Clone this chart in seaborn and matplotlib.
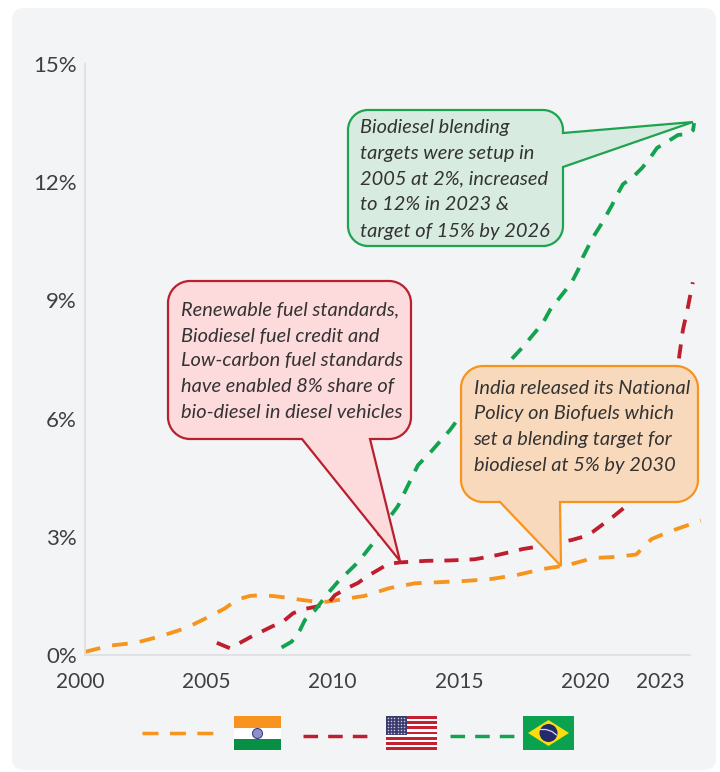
import numpy as np
import pandas as pd
import matplotlib
matplotlib.use("Agg")
import matplotlib.pyplot as plt
import matplotlib.transforms as mtrans
from matplotlib.path import Path
from matplotlib.patches import PathPatch, Rectangle, Circle, Polygon, FancyBboxPatch
import seaborn as sns

# ---------- data ----------
india_years = [2000, 2001, 2002, 2003, 2004, 2005, 2005.5, 2006, 2006.5, 2007, 2007.5, 2008, 2008.5, 2009, 2009.5,
               2010, 2011, 2012, 2013, 2014, 2015, 2016, 2017, 2018, 2019, 2020, 2020.9, 2021.7, 2022.3, 2023, 2023.62, 2024.25]
india_vals = [0.08, 0.24, 0.31, 0.48, 0.69, 1.01, 1.18, 1.41, 1.50, 1.52, 1.49, 1.45, 1.40, 1.36, 1.35,
              1.40, 1.50, 1.70, 1.82, 1.85, 1.88, 1.93, 2.03, 2.18, 2.28, 2.46, 2.49, 2.55, 2.94, 3.13, 3.27, 3.41]
usa_years = [2005.19, 2005.71, 2006.50, 2007.35, 2007.80, 2008.19, 2008.66, 2009.12, 2009.57, 2009.84, 2010.30,
             2010.75, 2011.09, 2011.54, 2011.93, 2012.40, 2013.45, 2014.37, 2015.35, 2016.26, 2017.24, 2018.19,
             2019.17, 2019.61, 2020.0, 2020.79, 2021.46, 2022.44, 2023.11, 2023.39, 2023.54, 2023.74, 2023.93]
usa_vals = [0.31, 0.17, 0.45, 0.72, 0.85, 1.06, 1.17, 1.23, 1.31, 1.52, 1.69,
            1.83, 1.99, 2.16, 2.31, 2.35, 2.39, 2.40, 2.43, 2.54, 2.69, 2.79,
            2.92, 3.00, 3.13, 3.51, 3.86, 5.08, 6.47, 7.56, 8.25, 8.84, 9.46]
brazil_years = [2007.74, 2008.14, 2008.46, 2008.66, 2009.06, 2009.57, 2009.96, 2010.63, 2010.94, 2011.54, 2012.01,
                2012.32, 2012.72, 2013.11, 2013.58, 2014.37, 2014.76, 2016.65, 2017.20, 2018.03, 2018.31, 2018.98,
                2019.17, 2019.41, 2019.61, 2019.80, 2020.0, 2020.35, 2020.75, 2020.94, 2021.18, 2021.57, 2021.93,
                2022.24, 2022.52, 2022.91, 2023.35, 2023.74, 2023.94, 2023.98]
brazil_vals = [0.19, 0.34, 0.63, 0.89, 1.14, 1.57, 1.86, 2.28, 2.51, 3.00, 3.51,
               3.78, 4.31, 4.82, 5.13, 5.71, 6.05, 7.41, 7.79, 8.43, 8.76, 9.31,
               9.47, 9.77, 10.11, 10.35, 10.60, 10.96, 11.42, 11.67, 11.95, 12.13, 12.36,
               12.61, 12.87, 13.02, 13.20, 13.22, 13.32, 13.50]
x_ticks = [2000, 2005, 2010, 2015, 2020, 2023]
x_tick_shift_px = [-5, -6, -7, -7, -8, -9]
y_ticks = [0, 3, 6, 9, 12, 15]
y_labels = ["0%", "3%", "6%", "9%", "12%", "15%"]
note_green = ["Biodiesel blending", "targets were setup in", "2005 at 2%, increased", "to 12% in 2023 &", "target of 15% by 2026"]
note_red = ["Renewable fuel standards,", "Biodiesel fuel credit and", "Low-carbon fuel standards", "have enabled 8% share of", "bio-diesel in diesel vehicles"]
note_orange = ["India released its National", "Policy on Biofuels which", "set a blending target for", "biodiesel at 5% by 2030"]

ORANGE, RED, GREEN = "#f7941d", "#be1e2d", "#12a34f"
PANEL, TEXT, AXIS = "#f3f4f6", "#3f3f3f", "#dfe0e3"

sns.set_theme(style="white")
plt.rcParams["font.family"] = ["Lato", "DejaVu Sans"]

W, H = 720, 772
fig = plt.figure(figsize=(W / 100, H / 100), dpi=100, facecolor="white")

bg = fig.add_axes([0, 0, 1, 1], zorder=0)
bg.set_xlim(0, W); bg.set_ylim(H, 0); bg.axis("off")
bg.add_patch(FancyBboxPatch((12, 8), 704, 762, boxstyle="round,pad=0,rounding_size=12", fc=PANEL, ec="none"))

ax = fig.add_axes([85 / W, (H - 655) / H, 605 / W, 591 / H], zorder=1)
ax.patch.set_alpha(0)
df = pd.concat([
    pd.DataFrame({"year": india_years, "share": india_vals, "country": "India"}),
    pd.DataFrame({"year": usa_years, "share": usa_vals, "country": "USA"}),
    pd.DataFrame({"year": brazil_years, "share": brazil_vals, "country": "Brazil"}),
])
palette = {"India": ORANGE, "USA": RED, "Brazil": GREEN}
sns.lineplot(data=df, x="year", y="share", hue="country", palette=palette, estimator=None, sort=False,
             legend=False, ax=ax, linewidth=2.75, clip_on=False)
for ln, d in zip(ax.get_lines(), [(4.1, 3.2), (3.7, 2.9), (3.7, 2.8)]):
    ln.set_linestyle((0, d))
    ln.set_dash_capstyle("butt")
    ln.set_dash_joinstyle("round")

ax.set_xlim(2000, 2000 + 605 / 25.4)
ax.set_ylim(0, 15)
ax.set_xlabel(""); ax.set_ylabel("")
ax.set_xticks(x_ticks)
ax.set_xticklabels([str(t) for t in x_ticks])
ax.set_yticks(y_ticks)
ax.set_yticklabels(y_labels)
ax.tick_params(axis="both", length=0, labelsize=15, labelcolor=TEXT)
ax.tick_params(axis="x", pad=12)
ax.tick_params(axis="y", pad=6, labelsize=16)
for lab, s in zip(ax.get_xticklabels(), x_tick_shift_px):
    lab.set_transform(lab.get_transform() + mtrans.ScaledTranslation(s / 100, 0, fig.dpi_scale_trans))
for s in ["top", "right"]:
    ax.spines[s].set_visible(False)
for s in ["left", "bottom"]:
    ax.spines[s].set_color(AXIS)
    ax.spines[s].set_linewidth(1.3)
ax.grid(False)

ov = fig.add_axes([0, 0, 1, 1], zorder=2)
ov.set_xlim(0, W); ov.set_ylim(H, 0); ov.axis("off")


def callout(x0, y0, x1, y1, r, ptr, side, fc, ec):
    """Rounded box with a pointer (a, tip, b) on the bottom or right side."""
    k = 0.45
    a, tip, b = ptr
    v, c = [(x0 + r, y0), (x1 - r, y0)], [Path.MOVETO, Path.LINETO]
    v += [(x1 - r * k, y0), (x1, y0 + r * k), (x1, y0 + r)]; c += [Path.CURVE4] * 3
    if side == "right":
        v += [a, tip, b]; c += [Path.LINETO] * 3
    v += [(x1, y1 - r)]; c += [Path.LINETO]
    v += [(x1, y1 - r * k), (x1 - r * k, y1), (x1 - r, y1)]; c += [Path.CURVE4] * 3
    if side == "bottom":
        v += [b, tip, a]; c += [Path.LINETO] * 3
    v += [(x0 + r, y1)]; c += [Path.LINETO]
    v += [(x0 + r * k, y1), (x0, y1 - r * k), (x0, y1 - r)]; c += [Path.CURVE4] * 3
    v += [(x0, y0 + r)]; c += [Path.LINETO]
    v += [(x0, y0 + r * k), (x0 + r * k, y0), (x0 + r, y0)]; c += [Path.CURVE4] * 3
    v += [(x0 + r, y0)]; c += [Path.CLOSEPOLY]
    ov.add_patch(PathPatch(Path(v, c), fc=fc, ec=ec, lw=1.6, joinstyle="miter"))


callout(348, 110, 563, 246, 20, [(563, 133), (693, 122), (563, 167)], "right", "#d8ebe0", "#1ea34f")
callout(168, 281, 411, 439, 22, [(302, 439), (400, 561), (370, 439)], "bottom", "#fddadb", "#b9202f")
callout(461, 366, 698, 502, 22, [(500, 502), (561, 566), (560, 502)], "bottom", "#f9d9bc", ORANGE)

for lines, x, ys in [(note_green, 360, [128, 154, 179, 205, 231]),
                     (note_red, 181, [310, 336, 361, 386, 412]),
                     (note_orange, 473.5, [388, 414, 440, 465])]:
    for s, y in zip(lines, ys):
        ov.text(x, y, s, style="italic", fontsize=14.4, color="#333333", va="center", ha="left")

# key: dashed samples followed by flags
ov.plot([142, 214], [733, 733], color=ORANGE, lw=2.5, linestyle=(0, (4.6, 3.3)), dash_capstyle="butt")
ov.plot([303, 367], [735.7, 735.7], color=RED, lw=2.5, linestyle=(0, (4.2, 2.9)), dash_capstyle="butt")
ov.plot([450, 514], [735.7, 735.7], color=GREEN, lw=2.5, linestyle=(0, (4.2, 2.9)), dash_capstyle="butt")

# India flag
ov.add_patch(Rectangle((234, 716), 47, 12, fc="#f7931e", ec="none"))
ov.add_patch(Rectangle((234, 728), 47, 11, fc="white", ec="none"))
ov.add_patch(Rectangle((234, 739), 47, 11, fc="#078f46", ec="none"))
ov.add_patch(Circle((257.5, 733.5), 5, fc="#8e8fc4", ec="#3d3f8f", lw=0.8))
# USA flag
for i in range(13):
    ov.add_patch(Rectangle((386, 716 + i * 34 / 13), 51, 34 / 13, ec="none", fc="#c4202f" if i % 2 == 0 else "white"))
ov.add_patch(Rectangle((386, 716), 21, 19, fc="#3c3b6e", ec="none"))
sx, sy = np.meshgrid(np.arange(388, 406, 3.2), np.arange(718, 734, 3.0))
ov.scatter(sx.ravel(), sy.ravel(), s=1.2, c="#c9c9de", linewidths=0)
# Brazil flag
ov.add_patch(Rectangle((523, 716), 51, 34, fc="#0aa14f", ec="none"))
ov.add_patch(Polygon([(528, 733), (548.5, 720), (569, 733), (548.5, 746)], fc="#fbdc0c", ec="none"))
ov.add_patch(Circle((548.5, 733), 9, fc="#24296e", ec="none"))
ov.plot([540.5, 546, 552, 556.5], [729.5, 729.5, 731.5, 735], color="#d5d8e8", lw=0.9)

fig.savefig("out.png", dpi=100, facecolor="white")
